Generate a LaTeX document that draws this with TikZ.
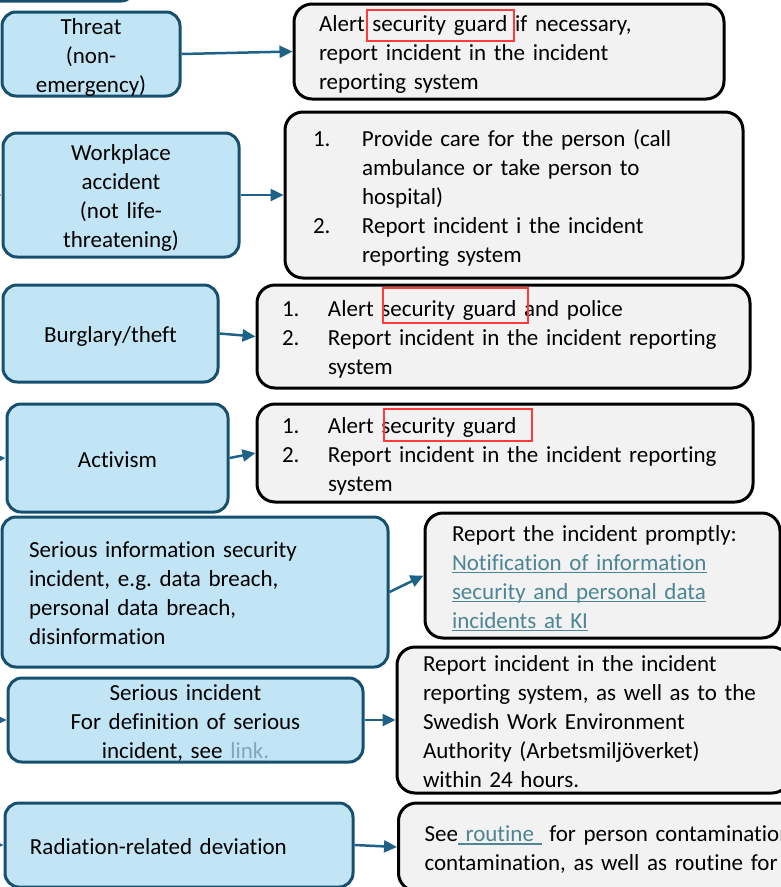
\documentclass[tikz,border=0pt]{standalone}
\usepackage{fontspec}
\setmainfont[Ligatures=NoCommon]{Carlito}
\usetikzlibrary{arrows.meta}
\definecolor{catfill}{HTML}{C2E5F5}
\definecolor{catline}{HTML}{17506F}
\definecolor{actfill}{HTML}{F2F2F2}
\definecolor{arrowc}{HTML}{1E6387}
\definecolor{linkc}{HTML}{4D8595}
\definecolor{linklight}{HTML}{7FA9B8}
\definecolor{markred}{HTML}{FF3B3B}
\frenchspacing
\newcommand{\boxfont}{\fontsize{23}{29}\selectfont}
\newcommand{\lnk}[2][linkc]{\leavevmode{\color{#1}\setbox0\hbox{#2}\rlap{\rule[-3pt]{\wd0}{1.3pt}}\box0}}
\newcommand{\itm}[2][46pt]{\makebox[#1][l]{#2}}
\newcommand{\ind}[1][46pt]{\hspace*{#1}}
\begin{document}
\begin{tikzpicture}[x=1pt, y=-1pt,
  every node/.style={execute at begin node={\rule{0pt}{22pt}}, execute at end node={\rule[-4pt]{0pt}{4pt}}},
  catbox/.style={draw=catline, fill=catfill, line width=3pt, rounded corners=14pt, inner sep=0pt, font=\boxfont, align=center},
  actbox/.style={draw=black, fill=actfill, line width=3pt, rounded corners=18pt, inner xsep=25pt, inner ysep=0pt, font=\boxfont, align=left},
  flow/.style={draw=arrowc, line width=2.5pt, -{Triangle[length=13pt, width=12pt]}},
  redmark/.style={draw=markred, line width=1.2pt}]
\useasboundingbox (0,0) rectangle (781,887);
\clip (0,0) rectangle (781,887);
\node[catbox, minimum width=235pt, minimum height=81pt] (prev) at (17.5,-39.5){};
\node[catbox, minimum width=178pt, minimum height=84pt, text width=170pt] (threat) at (91,54){Threat\\(non-\\emergency)};
\node[actbox, minimum width=430pt, minimum height=95pt, text width=380pt] (alert) at (509,51.5){Alert security guard if necessary,\\report incident in the incident\\reporting system};
\node[catbox, minimum width=236pt, minimum height=124pt, text width=220pt] (work) at (121,195){Workplace\\accident\\(not life-\\threatening)};
\node[actbox, minimum width=458pt, minimum height=166pt, text width=402pt, inner xsep=28pt] (care) at (514,195){\itm[49pt]{1.}Provide care for the person (call\\\ind[49pt]ambulance or take person to\\\ind[49pt]hospital)\\\itm[49pt]{2.}Report incident i the incident\\\ind[49pt]reporting system};
\node[catbox, minimum width=215pt, minimum height=97pt, text width=200pt] (burglary) at (110.5,333.5){Burglary/theft};
\node[actbox, minimum width=493pt, minimum height=103pt, text width=443pt] (police) at (503.5,336.5){\itm{1.}Alert security guard and police\\\itm{2.}Report incident in the incident reporting\\\ind system};
\node[catbox, minimum width=221pt, minimum height=108pt, text width=200pt] (activism) at (117.5,458){Activism};
\node[actbox, minimum width=496pt, minimum height=98pt, text width=446pt] (guard) at (505,453){\itm{1.}Alert security guard\\\itm{2.}Report incident in the incident reporting\\\ind system};
\node[catbox, minimum width=386pt, minimum height=150pt, text width=332pt, inner xsep=27pt, align=left] (infosec) at (195,592){Serious information security\\incident, e.g. data breach,\\personal data breach,\\disinformation};
\node[actbox, minimum width=355pt, minimum height=125pt, text width=301pt, inner xsep=27pt] (notify) at (602.5,575.5){Report the incident promptly:\\\lnk{Notification of information}\\\lnk{security and personal data}\\\lnk{incidents at KI}};
\node[catbox, minimum width=355pt, minimum height=84pt, text width=340pt] (serious) at (185.5,720){Serious incident\\For definition of serious\\incident, see \lnk[linklight]{link.}};
\node[actbox, minimum width=393pt, minimum height=146pt, text width=341pt, inner xsep=26pt] (authority) at (593.5,720){Report incident in the incident\\reporting system, as well as to the\\Swedish Work Environment\\Authority (Arbetsmiljöverket)\\within 24 hours.};
\node[catbox, minimum width=348pt, minimum height=84pt, text width=298pt, inner xsep=25pt, align=left] (radiation) at (179,845){Radiation-related deviation};
\node[actbox, anchor=west, minimum height=88pt, text width=500pt, inner xsep=26pt] (routine) at (397,847){See\lnk{\ routine\ } for person contamination\\contamination, as well as routine for};
\draw[redmark] (367,10) rectangle (514,41);
\draw[redmark] (383,288) rectangle (528,323);
\draw[redmark] (384,409) rectangle (532,441);
\draw[flow] (threat.east) -- (alert.west);
\draw[flow] (work.east) -- (care.west);
\draw[flow] (burglary.east) -- (police.west);
\draw[flow] (activism.east) -- (guard.west);
\draw[flow] (infosec.east) -- (notify.west);
\draw[flow] (serious.east) -- (authority.west);
\draw[flow] (radiation.east) -- (routine.west);
\coordinate (in2) at (-30,195);
\coordinate (in4) at (-30,460);
\coordinate (in5) at (-30,592);
\coordinate (in6) at (-30,720);
\coordinate (in7) at (-30,845);
\draw[flow] (in2) -- (work.west);
\draw[flow] (in4) -- (activism.west);
\draw[flow] (in5) -- (infosec.west);
\draw[flow] (in6) -- (serious.west);
\draw[flow] (in7) -- (radiation.west);
\end{tikzpicture}
\end{document}
